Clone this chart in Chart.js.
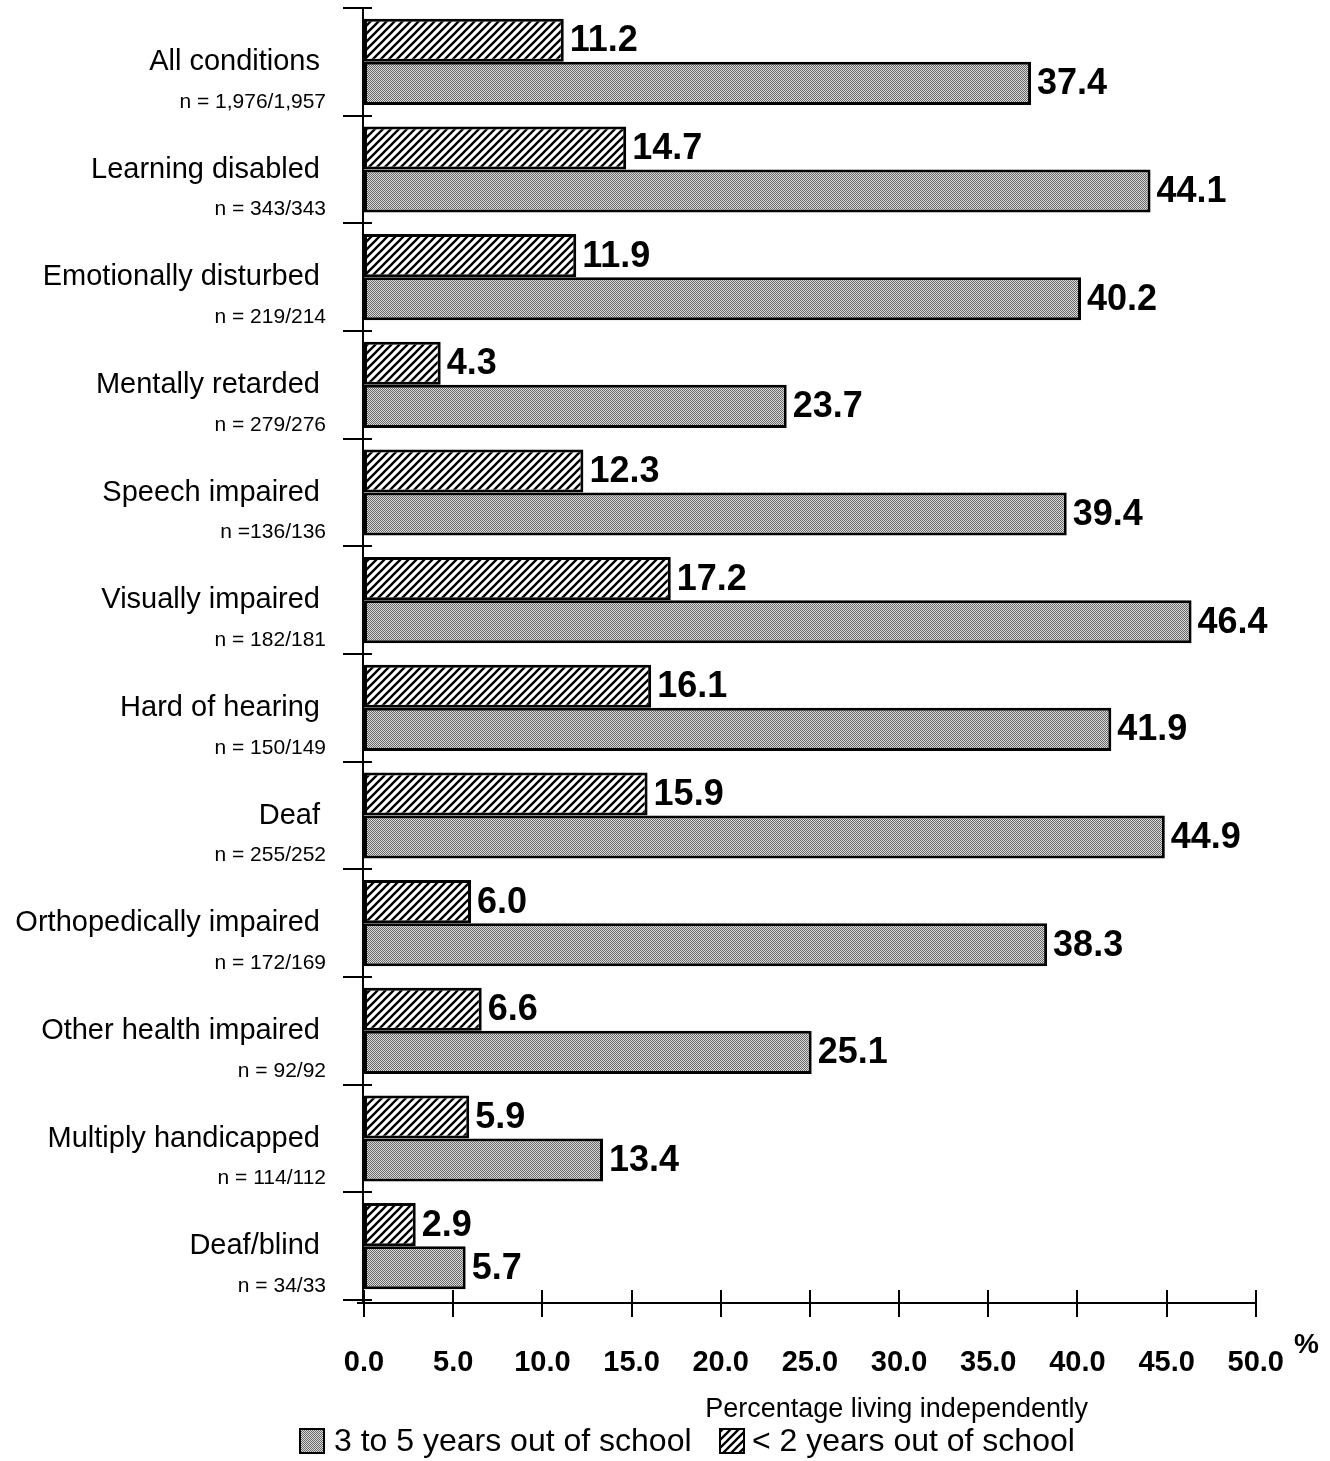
<!DOCTYPE html>
<html lang="en">
<head>
<meta charset="UTF-8">
<title>Percentage living independently</title>
<script src="https://cdn.jsdelivr.net/npm/chart.js"></script>
<style>
    body{ margin: 0; background: #fff; }
    #wrap{ position: relative; width: 1330px; height: 1461px; }
</style>
</head>
<body>
<div id="wrap"><canvas id="miCanvas" width="1330" height="1461"></canvas></div>
<script>
// disability categories, top to bottom
const categories = [
    "All conditions", "Learning disabled", "Emotionally disturbed", "Mentally retarded",
    "Speech impaired", "Visually impaired", "Hard of hearing", "Deaf",
    "Orthopedically impaired", "Other health impaired", "Multiply handicapped", "Deaf/blind"
];
const sampleSizes = [
    "n = 1,976/1,957", "n = 343/343", "n = 219/214", "n = 279/276",
    "n =136/136", "n = 182/181", "n = 150/149", "n = 255/252",
    "n = 172/169", "n = 92/92", "n = 114/112", "n = 34/33"
];
// % living independently
const underTwoYears = [11.2, 14.7, 11.9, 4.3, 12.3, 17.2, 16.1, 15.9, 6.0, 6.6, 5.9, 2.9];
const threeToFive = [37.4, 44.1, 40.2, 23.7, 39.4, 46.4, 41.9, 44.9, 38.3, 25.1, 13.4, 5.7];
const xTickValues = [0, 5, 10, 15, 20, 25, 30, 35, 40, 45, 50];

const FONT = '"Liberation Sans", Arial, Helvetica, sans-serif';

// diagonal hatch fill
function makeHatch() {
    const s = 8;
    const c = document.createElement('canvas');
    c.width = s; c.height = s;
    const g = c.getContext('2d');
    g.fillStyle = '#fff';
    g.fillRect(0, 0, s, s);
    g.strokeStyle = '#000';
    g.lineWidth = 2.3;
    g.beginPath();
    g.moveTo(-1, s + 1); g.lineTo(s + 1, -1);
    g.moveTo(-2, 2); g.lineTo(2, -2);
    g.moveTo(s - 2, s + 2); g.lineTo(s + 2, s - 2);
    g.stroke();
    return g.createPattern(c, 'repeat');
}

// fine gray stipple fill
function makeStipple() {
    const c = document.createElement('canvas');
    c.width = 2; c.height = 2;
    const g = c.getContext('2d');
    g.fillStyle = '#dcdcdc';
    g.fillRect(0, 0, 2, 2);
    g.fillStyle = '#666';
    g.fillRect(0, 0, 1, 1);
    g.fillRect(1, 1, 1, 1);
    return g.createPattern(c, 'repeat');
}

const hatch = makeHatch();
const stipple = makeStipple();

const valueLabels = {
    id: 'valueLabels',
    afterDatasetsDraw(chart) {
        const ctx = chart.ctx;
        ctx.save();
        ctx.font = 'bold 36px ' + FONT;
        ctx.fillStyle = '#000';
        ctx.textBaseline = 'middle';
        ctx.textAlign = 'left';
        chart.data.datasets.forEach((ds, i) => {
            chart.getDatasetMeta(i).data.forEach((bar, j) => {
                ctx.fillText(ds.data[j].toFixed(1), bar.x + 6, bar.y + 1);
            });
        });
        ctx.restore();
    }
};

// axes, tick marks, category names, axis title and legend
const decorations = {
    id: 'decorations',
    afterDraw(chart) {
        const ctx = chart.ctx;
        const x = chart.scales.x, y = chart.scales.y;
        const area = chart.chartArea;
        const band = (area.bottom - area.top) / categories.length;
        ctx.save();
        ctx.strokeStyle = '#000';
        ctx.lineWidth = 2;

        // y axis with boundary ticks
        ctx.beginPath();
        ctx.moveTo(area.left - 1, area.top);
        ctx.lineTo(area.left - 1, area.bottom + 3);
        for (let i = 0; i <= categories.length; i++) {
            const yy = Math.round(area.top + i * band);
            ctx.moveTo(area.left - 21, yy);
            ctx.lineTo(area.left + 8, yy);
        }
        // x axis with ticks crossing it
        ctx.moveTo(area.left - 7, area.bottom + 3);
        ctx.lineTo(x.getPixelForValue(50), area.bottom + 3);
        xTickValues.forEach(v => {
            const xx = Math.round(x.getPixelForValue(v));
            ctx.moveTo(xx, area.bottom - 10);
            ctx.lineTo(xx, area.bottom + 17);
        });
        ctx.stroke();

        // category names and sample sizes
        ctx.fillStyle = '#000';
        ctx.textBaseline = 'middle';
        ctx.textAlign = 'right';
        categories.forEach((name, i) => {
            const cy = y.getPixelForValue(i);
            ctx.font = '29px ' + FONT;
            ctx.fillText(name, 320, cy);
            ctx.font = '21px ' + FONT;
            ctx.fillText(sampleSizes[i], 326, cy + 40);
        });

        // percent sign after the last tick
        ctx.textAlign = 'left';
        ctx.font = 'bold 28px ' + FONT;
        ctx.fillText('%', 1294, 1345);

        // axis title
        ctx.textAlign = 'right';
        ctx.font = '27px ' + FONT;
        ctx.fillText('Percentage living independently', 1088, 1410);

        // legend
        const ds = chart.data.datasets;
        const items = [
            { box: 300, text: 334, label: ds[1].label, fill: ds[1].backgroundColor },
            { box: 720, text: 752, label: ds[0].label, fill: ds[0].backgroundColor }
        ];
        ctx.textAlign = 'left';
        ctx.font = '32px ' + FONT;
        items.forEach(it => {
            ctx.fillStyle = it.fill;
            ctx.fillRect(it.box, 1429, 24, 24);
            ctx.lineWidth = 2;
            ctx.strokeRect(it.box, 1429, 24, 24);
            ctx.fillStyle = '#000';
            ctx.fillText(it.label, it.text, 1442);
        });
        ctx.restore();
    }
};

new Chart(document.getElementById('miCanvas'), {
    type: 'bar',
    data: {
        labels: categories,
        datasets: [
            {
                label: '< 2 years out of school',
                data: underTwoYears,
                backgroundColor: hatch,
                borderColor: '#000',
                borderWidth: 3,
                borderSkipped: false
            },
            {
                label: '3 to 5 years out of school',
                data: threeToFive,
                backgroundColor: stipple,
                borderColor: '#000',
                borderWidth: 3,
                borderSkipped: false
            }
        ]
    },
    options: {
        indexAxis: 'y',
        responsive: false,
        devicePixelRatio: 1,
        animation: false,
        categoryPercentage: 0.8,
        barPercentage: 1.0,
        layout: { padding: { top: 8, right: 66, left: 0, bottom: 0 } },
        plugins: {
            legend: { display: false },
            tooltip: { enabled: false }
        },
        scales: {
            x: {
                type: 'linear',
                min: 0,
                max: 50,
                grid: { display: false, drawTicks: false },
                border: { display: false },
                ticks: {
                    stepSize: 5,
                    padding: 46,
                    color: '#000',
                    font: { family: FONT, size: 29, weight: 'bold' },
                    callback: v => v.toFixed(1)
                },
                afterFit(scale) { scale.height = 161; }
            },
            y: {
                grid: { display: false, drawTicks: false },
                border: { display: false },
                ticks: { display: false },
                afterFit(scale) { scale.width = 364; }
            }
        }
    },
    plugins: [valueLabels, decorations]
});
</script>
</body>
</html>
